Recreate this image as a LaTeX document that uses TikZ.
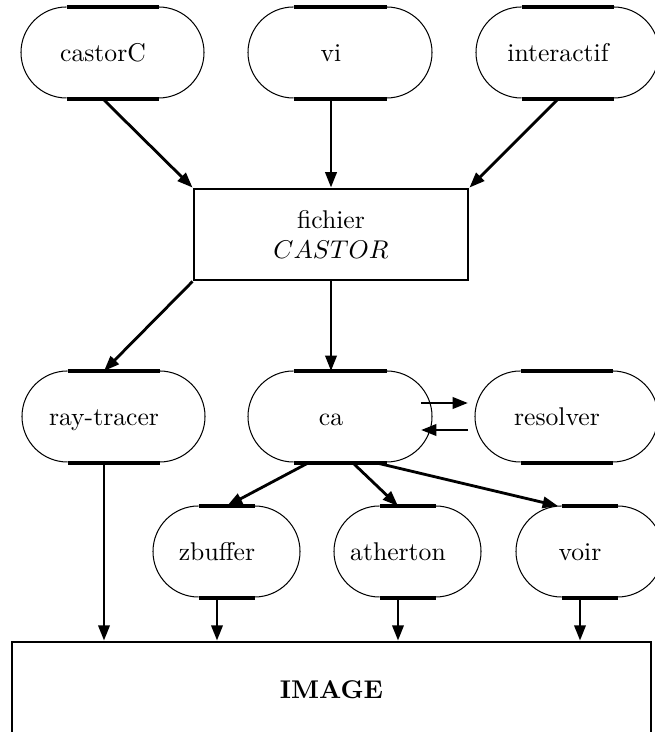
\documentclass[tikz,border=0pt]{standalone}
\usetikzlibrary{arrows.meta,calc}

\newcommand{\pillr}{17.75pt}
% rounded ends thin, flat sides thick
\newcommand{\pillframe}[3]{%
  \draw[pillarc] ($(#1.north)+(#2+45.5,0)$) arc[start angle=90,end angle=270,radius=\pillr];
  \draw[pillarc] ($(#1.north)+(#3-45.5,0)$) arc[start angle=90,end angle=-90,radius=\pillr];
  \draw[pillflat] ($(#1.north)+(#2+45.5,0)$) -- ($(#1.north)+(#3-45.5,0)$);
  \draw[pillflat] ($(#1.south)+(#2+45.5,0)$) -- ($(#1.south)+(#3-45.5,0)$);
}

\begin{document}
\begin{tikzpicture}
  [x=0.39pt,y=-0.39pt,
   pill/.style={minimum height=35.5pt,inner sep=0pt,text height=6.9pt,text depth=0pt},
   pillarc/.style={line width=0.4pt},
   pillflat/.style={line width=1.2pt},
   box/.style={draw,line width=1.1pt,inner sep=0pt},
   link/.style={line width=1.1pt,-{Triangle[length=6pt,width=4.4pt]}}]
  \useasboundingbox (0,0) rectangle (654,732);

  \node[pill] (castorC) at (103,53) {castorC};
  \node[pill] (vi) at (331,53) {vi};
  \node[pill] (interactif) at (558,53) {interactif};
  \node[box,minimum width=106.9pt,minimum height=35.5pt,align=center] (fichier) at (331,234.5) {fichier\\$CASTOR$};
  \node[pill] (raytracer) at (104,417) {ray-tracer};
  \node[pill] (ca) at (331,417) {ca};
  \node[pill] (resolver) at (557,417) {resolver};
  \node[pill] (zbuffer) at (217,552) {zbuffer};
  \node[pill] (atherton) at (398,552) {atherton};
  \node[pill] (voir) at (580,552) {voir};
  \node[box,minimum width=249.2pt,minimum height=37.4pt] (image) at (331.5,690) {\textbf{IMAGE}};

  \foreach \n/\l/\r in {castorC/-82/101,vi/-83/101,interactif/-82/101,raytracer/-82/101,ca/-83/101,resolver/-82/101,zbuffer/-64/83,atherton/-64/83,voir/-64/83}
    \pillframe{\n}{\l}{\r};

  \foreach \from/\to in {castorC.south/fichier.north west,vi.south/fichier.north,interactif.south/fichier.north east,fichier.south west/raytracer.north,fichier.south/ca.north}
    \draw[link] (\from) -- (\to);

  \draw[link] ($(ca.south)+(-23,0)$) -- ($(zbuffer.north)+(10,0)$);
  \draw[link] ($(ca.south)+(22,0)$) -- (atherton.north);
  \draw[link] ($(ca.south)+(46,0)$) -- ($(voir.north)+(-22,0)$);

  \draw[link] ($(ca)+(90,-14)$) -- ($(resolver)+(-89,-14)$);
  \draw[link] ($(resolver)+(-89,13)$) -- ($(ca)+(90,13)$);

  \foreach \n in {raytracer,zbuffer,atherton,voir}
    \draw[link] (\n.south) -- (\n.south |- image.north);

\end{tikzpicture}
\end{document}
